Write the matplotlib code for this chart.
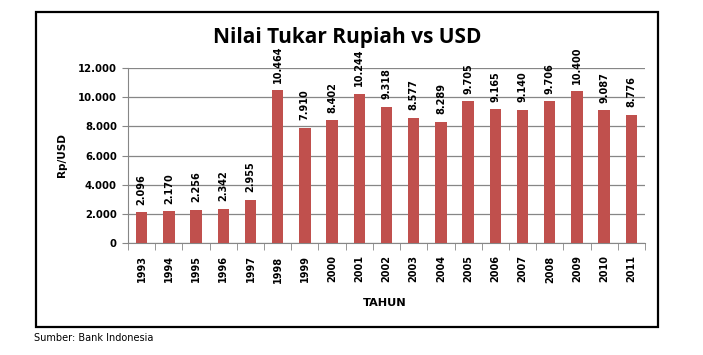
import matplotlib
matplotlib.use("Agg")
import matplotlib.pyplot as plt
from matplotlib.patches import Rectangle
from matplotlib.ticker import FuncFormatter, MultipleLocator

years = ["1993", "1994", "1995", "1996", "1997", "1998", "1999", "2000", "2001", "2002",
         "2003", "2004", "2005", "2006", "2007", "2008", "2009", "2010", "2011"]
rates = [2096, 2170, 2256, 2342, 2955, 10464, 7910, 8402, 10244, 9318,
         8577, 8289, 9705, 9165, 9140, 9706, 10400, 9087, 8776]

def fmt(v):
    return f"{int(v):,}".replace(",", ".")

fig = plt.figure(figsize=(7.03, 3.55), dpi=100)
fig.patch.set_facecolor("white")

# outer frame
W, H = 703, 355
fig.patches.append(Rectangle((36 / W, 1 - 327 / H), (658 - 36) / W, (327 - 12) / H,
                             transform=fig.transFigure, fill=False, edgecolor="black",
                             linewidth=1.6, zorder=0))

ax = fig.add_axes([128 / W, 1 - 243 / H, (645 - 128) / W, (243 - 68) / H])
x = list(range(len(years)))
ax.bar(x, rates, width=0.42, color="#C0504D", zorder=3)
ax.set_xlim(-0.5, len(years) - 0.5)
ax.set_ylim(0, 12000)
ax.yaxis.set_major_locator(MultipleLocator(2000))
ax.yaxis.set_major_formatter(FuncFormatter(lambda v, p: fmt(v)))
ax.grid(axis="y", color="#868686", linewidth=0.9, zorder=0)
ax.set_axisbelow(True)

for s in ["top", "right"]:
    ax.spines[s].set_visible(False)
ax.spines["left"].set_color("#868686")
ax.spines["bottom"].set_color("#868686")

ax.set_xticks(x)
ax.set_xticklabels(years, rotation=90, fontsize=7, fontweight="bold", family="DejaVu Sans")
ax.set_xticks([i - 0.5 for i in range(len(years) + 1)], minor=True)
ax.tick_params(axis="x", which="major", length=0, pad=9)
ax.tick_params(axis="x", which="minor", length=5, color="#868686", direction="out")
ax.tick_params(axis="y", length=4, color="#868686", labelsize=7.3, pad=4)
for lab in ax.get_yticklabels():
    lab.set_fontweight("bold")
    lab.set_family("DejaVu Sans")

for xi, v in zip(x, rates):
    ax.annotate(fmt(v), (xi, v), xytext=(0, 5.5), textcoords="offset points",
                rotation=90, ha="center", va="bottom", fontsize=7,
                fontweight="bold", family="DejaVu Sans", zorder=4)

fig.text(347 / W, 1 - 38 / H, "Nilai Tukar Rupiah vs USD", ha="center", va="center",
         fontsize=15, fontweight="bold", family="Open Sans")
fig.text(62 / W, 1 - 155 / H, "Rp/USD", ha="center", va="center", rotation=90,
         fontsize=7.5, fontweight="bold", family="DejaVu Sans")
fig.text(385 / W, 1 - 303 / H, "TAHUN", ha="center", va="center",
         fontsize=8.2, fontweight="bold", family="DejaVu Sans")
fig.text(34 / W, 1 - 338 / H, "Sumber: Bank Indonesia", ha="left", va="center",
         fontsize=7, family="DejaVu Sans")

fig.savefig("out.png", dpi=100, facecolor="white")
